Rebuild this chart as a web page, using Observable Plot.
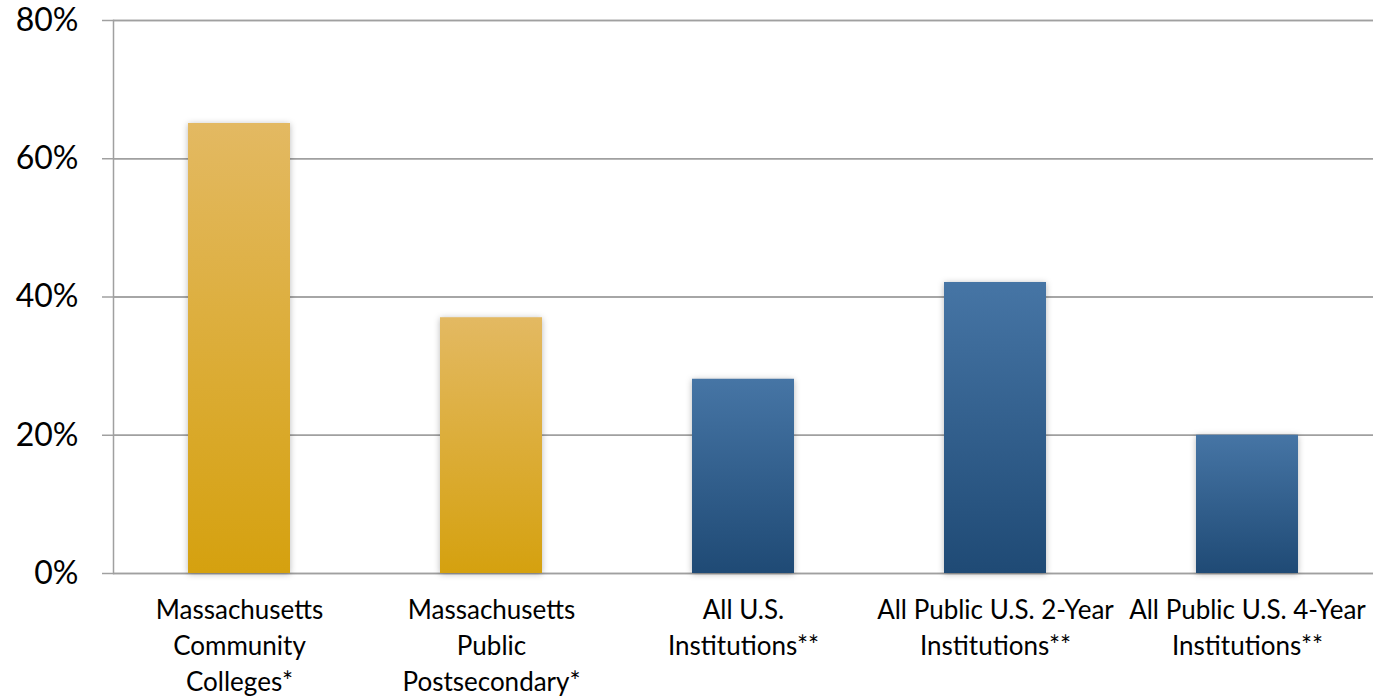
<!DOCTYPE html>
<html>
<head>
<meta charset="utf-8">
<script src="https://cdn.jsdelivr.net/npm/d3@7"></script>
<script src="https://cdn.jsdelivr.net/npm/@observablehq/plot@0.6"></script>
<style>
  html, body { margin: 0; padding: 0; background: #fff; }
  #chart svg g[aria-label="bar"] rect { filter: drop-shadow(0px 1px 3px rgba(0,0,0,0.28)); }
</style>
</head>
<body>
<div id="chart"></div>
<script>
const categories = [
  "Massachusetts Community Colleges*",
  "Massachusetts Public Postsecondary*",
  "All U.S. Institutions**",
  "All Public U.S. 2-Year Institutions**",
  "All Public U.S. 4-Year Institutions**"
];
const tickLabels = [
  "Massachusetts\nCommunity\nColleges*",
  "Massachusetts\nPublic\nPostsecondary*",
  "All U.S.\nInstitutions**",
  "All Public U.S. 2-Year\nInstitutions**",
  "All Public U.S. 4-Year\nInstitutions**"
];
const values = [0.651, 0.370, 0.281, 0.421, 0.200];
const groups = ["ma", "ma", "us", "us", "us"];
const yTicks = [0, 0.2, 0.4, 0.6, 0.8];

const data = categories.map((c, i) => ({category: c, value: values[i], group: groups[i]}));
const labelOf = new Map(categories.map((c, i) => [c, tickLabels[i]]));

const font = "Lato, 'Open Sans', sans-serif";

const chart = Plot.plot({
  width: 1374,
  height: 696,
  marginLeft: 113,
  marginRight: 1,
  marginTop: 20,
  marginBottom: 123,
  style: {fontFamily: font, background: "#fff", color: "#000"},
  x: {domain: categories, paddingInner: 0.595, paddingOuter: 0.2975, axis: null, label: null},
  y: {domain: [0, 0.8], axis: null, label: null},
  marks: [
    Plot.ruleY(yTicks, {stroke: "#a0a0a0", strokeWidth: 1.5}),
    Plot.tickY(yTicks, {y: d => d, stroke: "#a0a0a0", strokeWidth: 1.5}),
    Plot.barY(data.filter(d => d.group === "ma"), {x: "category", y: "value", fill: "url(#goldGrad)"}),
    Plot.barY(data.filter(d => d.group === "us"), {x: "category", y: "value", fill: "url(#blueGrad)"}),
    Plot.axisY({ticks: yTicks, tickFormat: d3.format(".0%"), tickSize: 11, tickPadding: 24, fontSize: 32, stroke: "#a0a0a0", strokeWidth: 1.5, label: null}),
    Plot.frame({anchor: "left", stroke: "#a0a0a0", strokeWidth: 1.5}),
    Plot.axisX({tickFormat: d => labelOf.get(d), tickSize: 0, tickPadding: 20, fontSize: 26, lineHeight: 1.385, label: null})
  ]
});

const svg = d3.select(chart);
const defs = svg.insert("defs", ":first-child");
const g1 = defs.append("linearGradient").attr("id", "goldGrad").attr("x1", 0).attr("y1", 0).attr("x2", 0).attr("y2", 1);
g1.append("stop").attr("offset", "0%").attr("stop-color", "#e3b962");
g1.append("stop").attr("offset", "100%").attr("stop-color", "#d5a10f");
const g2 = defs.append("linearGradient").attr("id", "blueGrad").attr("x1", 0).attr("y1", 0).attr("x2", 0).attr("y2", 1);
g2.append("stop").attr("offset", "0%").attr("stop-color", "#4675a5");
g2.append("stop").attr("offset", "100%").attr("stop-color", "#1f4a75");

document.getElementById("chart").appendChild(chart);
</script>
</body>
</html>
